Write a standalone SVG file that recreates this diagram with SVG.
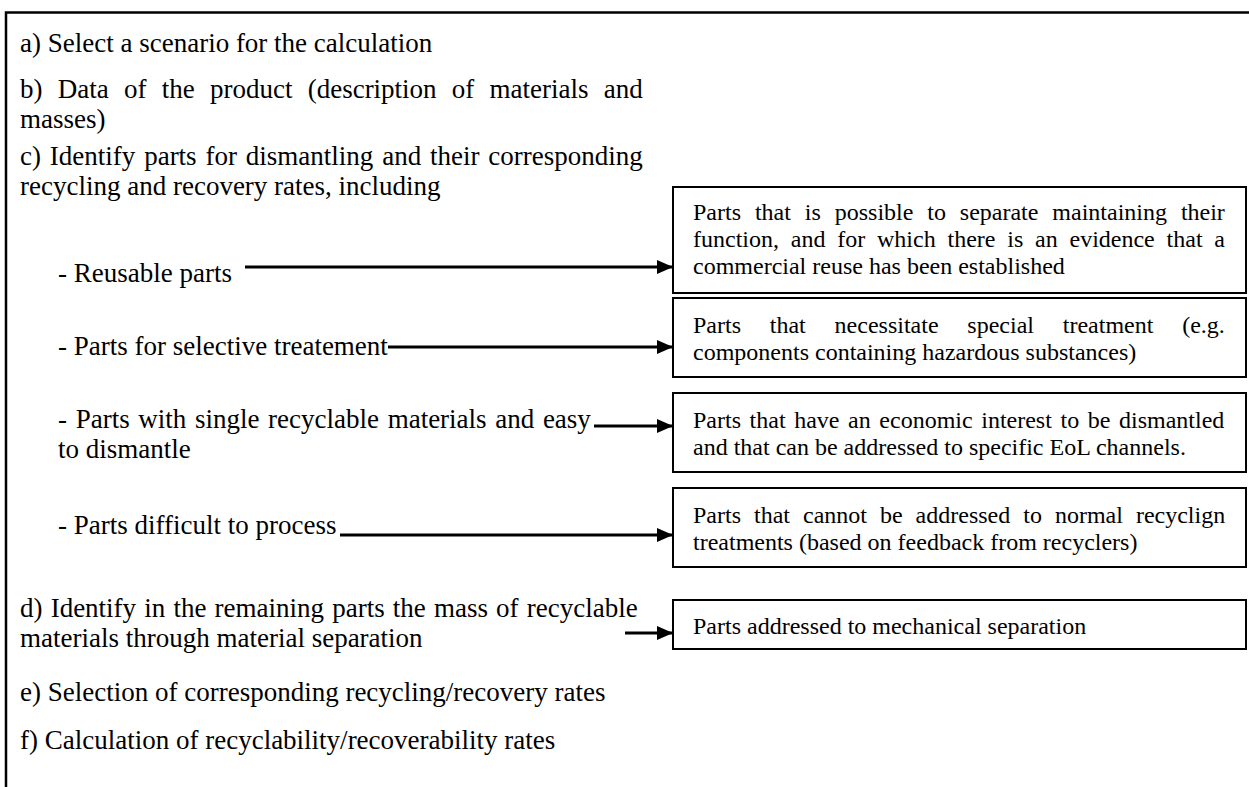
<svg xmlns="http://www.w3.org/2000/svg" width="1249" height="787" viewBox="0 0 1249 787">
<defs>
<style>
.t{font-family:"Liberation Serif","Times New Roman",serif;font-size:27px;fill:#000}
.bt{font-family:"Liberation Serif","Times New Roman",serif;font-size:24px;fill:#000}
.box{fill:#fff;stroke:#000;stroke-width:2}
.arr{stroke:#000;stroke-width:3;fill:none;marker-end:url(#ah)}
</style>
<marker id="ah" viewBox="0 0 16 14" refX="16" refY="7" markerWidth="16" markerHeight="14" markerUnits="userSpaceOnUse" orient="auto">
<path d="M0,0 L16,7 L0,14 z" fill="#000"/>
</marker>
</defs>
<rect width="1249" height="787" fill="#fff"/>
<path d="M6,787 V12.5 H1249" fill="none" stroke="#000" stroke-width="2.5"/>

<g id="steps">
<text class="t" x="20" y="52">a) Select a scenario for the calculation</text>
<text class="t" x="20" y="98" style="word-spacing:8.5px">b) Data of the product (description of materials and</text>
<text class="t" x="20" y="128">masses)</text>
<text class="t" x="20" y="165" style="word-spacing:2.1px">c) Identify parts for dismantling and their corresponding</text>
<text class="t" x="20" y="195">recycling and recovery rates, including</text>
<text class="t" x="58" y="282">- Reusable parts</text>
<text class="t" x="58" y="355">- Parts for selective treatement</text>
<text class="t" x="58" y="428" style="word-spacing:1.9px">- Parts with single recyclable materials and easy</text>
<text class="t" x="58" y="458">to dismantle</text>
<text class="t" x="58" y="534">- Parts difficult to process</text>
<text class="t" x="20" y="617" style="word-spacing:1.4px">d) Identify in the remaining parts the mass of recyclable</text>
<text class="t" x="20" y="647">materials through material separation</text>
<text class="t" x="20" y="701">e) Selection of corresponding recycling/recovery rates</text>
<text class="t" x="20" y="749">f) Calculation of recyclability/recoverability rates</text>
</g>

<g id="connectors">
<line class="arr" x1="245" y1="267" x2="673" y2="267"/>
<line class="arr" x1="388" y1="347" x2="673" y2="347"/>
<line class="arr" x1="594" y1="426" x2="673" y2="426"/>
<line class="arr" x1="340" y1="535" x2="673" y2="535"/>
<line class="arr" x1="625" y1="633" x2="673" y2="633"/>
</g>

<g id="box-reusable">
<rect class="box" x="673" y="187" width="573" height="106"/>
<text class="bt" x="693" y="220" style="word-spacing:7.9px">Parts that is possible to separate maintaining their</text>
<text class="bt" x="693" y="247" style="word-spacing:5.8px">function, and for which there is an evidence that a</text>
<text class="bt" x="693" y="274">commercial reuse has been established</text>
</g>
<g id="box-selective">
<rect class="box" x="673" y="298" width="573" height="79"/>
<text class="bt" x="693" y="333" style="word-spacing:22.8px">Parts that necessitate special treatment (e.g.</text>
<text class="bt" x="693" y="360">components containing hazardous substances)</text>
</g>
<g id="box-single">
<rect class="box" x="673" y="393" width="573" height="79"/>
<text class="bt" x="693" y="428" style="word-spacing:2.6px">Parts that have an economic interest to be dismantled</text>
<text class="bt" x="693" y="455">and that can be addressed to specific EoL channels.</text>
</g>
<g id="box-difficult">
<rect class="box" x="673" y="488" width="573" height="79"/>
<text class="bt" x="693" y="523" style="word-spacing:7px">Parts that cannot be addressed to normal recyclign</text>
<text class="bt" x="693" y="550">treatments (based on feedback from recyclers)</text>
</g>
<g id="box-mechanical">
<rect class="box" x="673" y="600" width="573" height="49"/>
<text class="bt" x="693" y="634">Parts addressed to mechanical separation</text>
</g>
</svg>
